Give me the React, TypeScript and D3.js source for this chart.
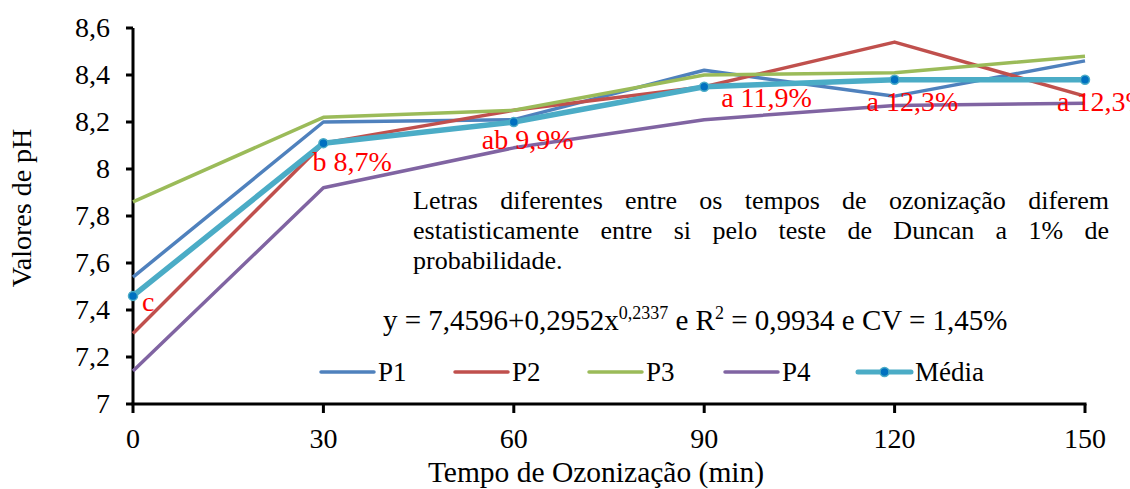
import React from "react";
import * as d3 from "d3";

// tempos de ozonização (min)
const tempos = [0, 30, 60, 90, 120, 150];
const p1 = [7.54, 8.2, 8.21, 8.42, 8.31, 8.46];
const p2 = [7.3, 8.11, 8.25, 8.35, 8.54, 8.31];
const p3 = [7.86, 8.22, 8.25, 8.4, 8.41, 8.48];
const p4 = [7.14, 7.92, 8.09, 8.21, 8.27, 8.28];
const media = [7.46, 8.11, 8.2, 8.35, 8.38, 8.38];
const rotulos = ["c", "b 8,7%", "ab 9,9%", "a 11,9%", "a 12,3%", "a 12,3%"];
const yTicks = [7, 7.2, 7.4, 7.6, 7.8, 8, 8.2, 8.4, 8.6];

const series = [
  { name: "P1", values: p1, color: "#4F81BD" },
  { name: "P2", values: p2, color: "#C0504D" },
  { name: "P3", values: p3, color: "#9BBB59" },
  { name: "P4", values: p4, color: "#8064A2" },
];

const notaLinhas = [
  "Letras diferentes entre os tempos de ozonização diferem",
  "estatisticamente entre si pelo teste de Duncan a 1% de",
  "probabilidade.",
];

const FONT = '"Liberation Serif", "DejaVu Serif", serif';

// label offsets (relative to the Média point)
const labelOffsets = [
  [9, 15],
  [-11, 28],
  [-32, 27],
  [17, 20],
  [-28, 31],
  [-28, 31],
];

function measure(text: string, size: number) {
  const ctx = document.createElement("canvas").getContext("2d")!;
  ctx.font = `${size}px "Liberation Serif"`;
  return ctx.measureText(text).width;
}

export default function App() {
  const W = 1130;
  const H = 489;
  const x = d3.scaleLinear().domain([0, 150]).range([133, 1085]);
  const y = d3.scaleLinear().domain([7, 8.6]).range([404, 28]);

  const line = d3
    .line<number>()
    .x((_, i) => x(tempos[i]))
    .y((d) => y(d));

  // justified note block
  const noteSize = 26;
  const noteLeft = 413;
  const noteRight = 1109;
  const noteWords = notaLinhas.map((l, li) => {
    const words = l.split(" ");
    const widths = words.map((w) => measure(w, noteSize));
    const total = d3.sum(widths);
    const gap =
      li < notaLinhas.length - 1
        ? (noteRight - noteLeft - total) / (words.length - 1)
        : measure(" ", noteSize);
    let cx = noteLeft;
    return words.map((w, i) => {
      const pos = cx;
      cx += widths[i] + gap;
      return { w, pos };
    });
  });

  const legendItems = [
    ...series.map((s) => ({ ...s, width: 3.5, marker: false })),
    { name: "Média", values: media, color: "#4BACC6", width: 5, marker: true },
  ];
  const legendX = [321, 455, 589, 725, 858];

  return (
    <svg
      width={W}
      height={H}
      style={{ position: "absolute", left: 0, top: 0, background: "#fff", fontFamily: FONT }}
    >
      <rect width={W} height={H} fill="#fff" />

      {/* axes */}
      <line x1={x(0)} x2={x(0)} y1={y(8.6)} y2={y(7)} stroke="#000" strokeWidth={3} />
      <line x1={x(0) - 1.5} x2={x(150) + 1.5} y1={y(7)} y2={y(7)} stroke="#000" strokeWidth={3} />
      {yTicks.map((t) => (
        <g key={t}>
          <line x1={x(0) - 7} x2={x(0)} y1={y(t)} y2={y(t)} stroke="#000" strokeWidth={3} />
          <text x={110} y={y(t) + 9} textAnchor="end" fontSize={28}>
            {String(t).replace(".", ",")}
          </text>
        </g>
      ))}
      {tempos.map((t) => (
        <g key={t}>
          <line x1={x(t)} x2={x(t)} y1={y(7)} y2={y(7) + 9} stroke="#000" strokeWidth={3} />
          <text x={x(t)} y={448} textAnchor="middle" fontSize={28}>
            {t}
          </text>
        </g>
      ))}
      <text x={596} y={482} textAnchor="middle" fontSize={29.5}>
        Tempo de Ozonização (min)
      </text>
      <text transform={`translate(31,208) rotate(-90)`} textAnchor="middle" fontSize={28}>
        Valores de pH
      </text>

      {/* series */}
      {series.map((s) => (
        <path key={s.name} d={line(s.values)!} fill="none" stroke={s.color} strokeWidth={3.5} strokeLinejoin="round" />
      ))}
      <path d={line(media)!} fill="none" stroke="#4BACC6" strokeWidth={5.5} strokeLinejoin="round" />
      {media.map((v, i) => (
        <circle key={i} cx={x(tempos[i])} cy={y(v)} r={4.5} fill="#0070C0" stroke="#4BACC6" strokeWidth={1.5} />
      ))}

      {/* letter labels */}
      {media.map((v, i) => (
        <text
          key={i}
          x={x(tempos[i]) + labelOffsets[i][0]}
          y={y(v) + labelOffsets[i][1]}
          fill="#FF0000"
          fontSize={28}
        >
          {rotulos[i]}
        </text>
      ))}

      {/* note */}
      {noteWords.map((ws, li) =>
        ws.map((w, i) => (
          <text key={`${li}-${i}`} x={w.pos} y={209 + li * 30} fontSize={noteSize}>
            {w.w}
          </text>
        ))
      )}

      {/* equation */}
      <text x={383} y={330} fontSize={29}>
        y = 7,4596+0,2952x
        <tspan fontSize={18} dy={-11}>0,2337</tspan>
        <tspan dy={11}> e R</tspan>
        <tspan fontSize={18} dy={-11}>2</tspan>
        <tspan dy={11}> = 0,9934 e CV = 1,45%</tspan>
      </text>

      {/* legend */}
      {legendItems.map((s, i) => (
        <g key={s.name} transform={`translate(${legendX[i]},372)`}>
          <line x1={0} x2={53} y1={0} y2={0} stroke={s.color} strokeWidth={s.width} strokeLinecap="round" />
          {s.marker && <circle cx={26.5} cy={0} r={4.5} fill="#0070C0" stroke="#4BACC6" strokeWidth={1.5} />}
          <text x={57} y={9} fontSize={27}>
            {s.name}
          </text>
        </g>
      ))}
    </svg>
  );
}
